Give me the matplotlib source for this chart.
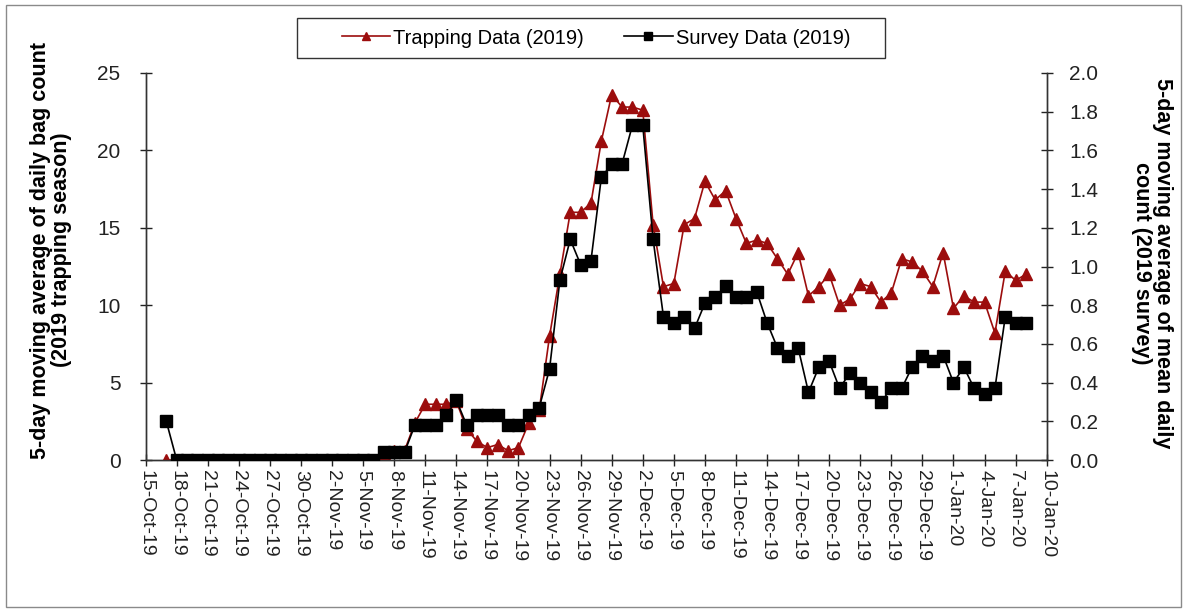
import matplotlib
matplotlib.use("Agg")
import matplotlib.pyplot as plt
from matplotlib.lines import Line2D
from matplotlib.patches import Rectangle
import pandas as pd

plt.rcParams['font.family'] = ['Liberation Sans', 'DejaVu Sans']

# 5-day moving averages, one value per day from 17-Oct-2019 to 8-Jan-2020
trapping_2019 = [
    0.0,
    0, 0, 0, 0, 0, 0, 0, 0, 0, 0, 0, 0, 0, 0, 0, 0, 0, 0, 0, 0,
    0.4, 0.6, 0.6,
    2.4, 3.6, 3.6, 3.6, 3.8, 2.0, 1.2, 0.8, 1.0, 0.6, 0.8, 2.4, 3.2,
    8.0, 12.0, 16.0, 16.0, 16.6, 20.6, 23.6, 22.8, 22.8, 22.6,
    15.2, 11.2, 11.4, 15.2, 15.6, 18.0, 16.8, 17.4, 15.6, 14.0, 14.2, 14.0,
    13.0, 12.0, 13.4, 10.6, 11.2, 12.0, 10.0, 10.4, 11.4, 11.2, 10.2, 10.8,
    13.0, 12.8, 12.2, 11.2, 13.4, 9.8, 10.6, 10.2, 10.2, 8.2, 12.2, 11.6, 12.0,
]
survey_2019 = [
    0.20,
    0, 0, 0, 0, 0, 0, 0, 0, 0, 0, 0, 0, 0, 0, 0, 0, 0, 0, 0, 0,
    0.04, 0.04, 0.04,
    0.18, 0.18, 0.18, 0.23, 0.31, 0.18, 0.23, 0.23, 0.23, 0.18, 0.18, 0.23, 0.27,
    0.47, 0.93, 1.14, 1.01, 1.03, 1.46, 1.53, 1.53, 1.73, 1.73,
    1.14, 0.74, 0.71, 0.74, 0.68, 0.81, 0.84, 0.90, 0.84, 0.84, 0.87, 0.71,
    0.58, 0.54, 0.58, 0.35, 0.48, 0.51, 0.37, 0.45, 0.40, 0.35, 0.30, 0.37,
    0.37, 0.48, 0.54, 0.51, 0.54, 0.40, 0.48, 0.37, 0.34, 0.37, 0.74, 0.71, 0.71,
]

axis_start = pd.Timestamp('2019-10-15')
axis_end = pd.Timestamp('2020-01-10')
dates = pd.date_range('2019-10-17', periods=len(trapping_2019), freq='D')
days = (dates - axis_start).days

tick_dates = pd.date_range(axis_start, axis_end, freq='3D')
tick_pos = (tick_dates - axis_start).days
tick_labels = [f"{d.day}-{d:%b-%y}" for d in tick_dates]

left_ticks = [0, 5, 10, 15, 20, 25]
right_ticks = [0.0, 0.2, 0.4, 0.6, 0.8, 1.0, 1.2, 1.4, 1.6, 1.8, 2.0]

RED = '#9c0d0d'
W, H = 1187, 613
fig = plt.figure(figsize=(W / 100, H / 100), dpi=100)
ax = fig.add_axes([145.6 / W, 1 - 460 / H, (1046.7 - 145.6) / W, (460 - 73) / H])

FS = 14
ax.plot(days, trapping_2019, color=RED, lw=1.2, marker='^', ms=8.5,
        markerfacecolor=RED, markeredgecolor=RED, zorder=3)
ax.set_xlim(0, (axis_end - axis_start).days)
ax.set_ylim(0, 25)
ax.set_yticks(left_ticks)
ax.set_xticks(tick_pos)
ax.set_xticklabels(tick_labels, rotation=-90, fontsize=FS)
ax.tick_params(axis='x', direction='inout', length=8, width=1, pad=3, colors='#222222')
ax.tick_params(axis='y', direction='inout', length=8, width=1, pad=14, labelsize=FS + 1,
               colors='#222222')

ax2 = ax.twinx()
ax2.plot(days, survey_2019, color='black', lw=1.2, marker='s', ms=8,
         markerfacecolor='black', markeredgecolor='black', zorder=3)
ax2.set_ylim(0, 2.0)
ax2.set_yticks(right_ticks)
ax2.set_yticklabels([f"{v:.1f}" for v in right_ticks])
ax2.tick_params(axis='y', direction='inout', length=8, width=1, pad=12, labelsize=FS + 1,
                colors='#222222')

for a in (ax, ax2):
    a.patch.set_visible(False)
    for side in ('left', 'right', 'bottom'):
        a.spines[side].set_color('#333333')
        a.spines[side].set_linewidth(1)
    a.spines['top'].set_visible(False)

LFS = 15.5
fig.text(51 / W, 1 - 250 / H, "5-day moving average of daily bag count\n(2019 trapping season)",
         rotation=90, ha='center', va='center', fontsize=LFS, fontweight='bold',
         multialignment='center', linespacing=1.0)
fig.text(1152 / W, 1 - 263 / H, "5-day moving average of mean daily\ncount (2019 survey)",
         rotation=-90, ha='center', va='center', fontsize=LFS, fontweight='bold',
         multialignment='center', linespacing=1.0)

# legend box and entries
fig.patches.append(Rectangle((297 / W, 1 - 58 / H), (885 - 297) / W, 40 / H,
                             transform=fig.transFigure, fill=False,
                             edgecolor='#333333', lw=1))
handles = [
    Line2D([], [], color=RED, lw=1.2, marker='^', ms=6, markerfacecolor=RED),
    Line2D([], [], color='black', lw=1.2, marker='s', ms=6, markerfacecolor='black'),
]
fig.legend(handles, ["Trapping Data (2019)", "Survey Data (2019)"], loc='center',
           bbox_to_anchor=(596 / W, 1 - 38 / H), ncol=2, frameon=False, fontsize=14.5,
           handlelength=2.4, handletextpad=0.15, columnspacing=2.0)

# outer frame of the figure
fig.patches.append(Rectangle((6 / W, 1 - 607 / H), (1181 - 6) / W, (607 - 5) / H,
                             transform=fig.transFigure, fill=False,
                             edgecolor='#8a8a8a', lw=1))

fig.savefig('out.png', dpi=100)
